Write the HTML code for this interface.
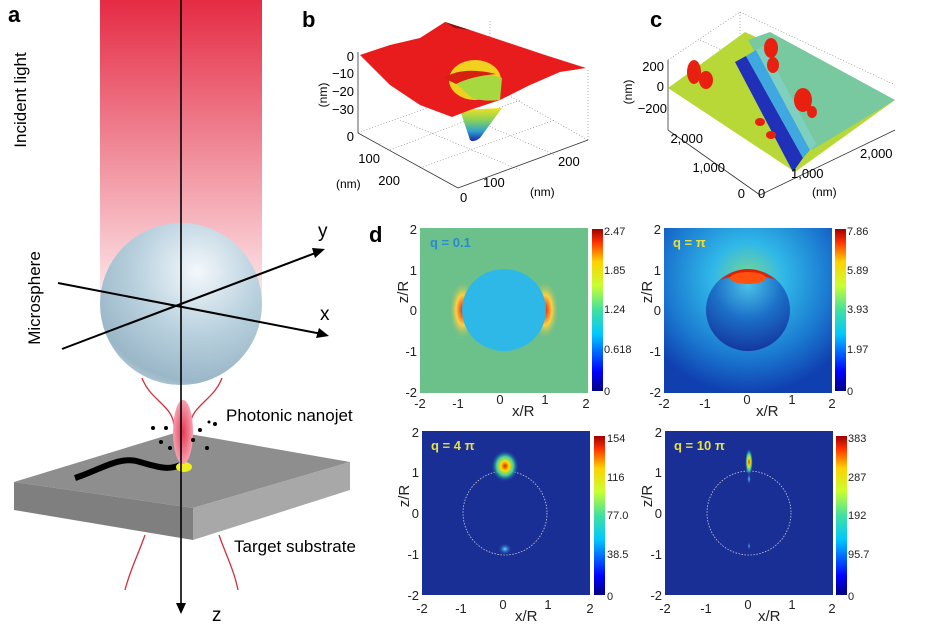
<!DOCTYPE html>
<html><head><meta charset="utf-8"><style>
html,body{margin:0;padding:0;background:#fff}
svg{display:block;font-family:"Liberation Sans",Arial,sans-serif}
</style></head><body>
<svg width="925" height="637" viewBox="0 0 925 637" xmlns="http://www.w3.org/2000/svg">
<defs>
<linearGradient id="beam" x1="0" y1="0" x2="0" y2="1">
<stop offset="0" stop-color="#e52b44"/><stop offset="0.5" stop-color="#f08a98"/><stop offset="1" stop-color="#fde9ec"/></linearGradient>
<radialGradient id="sph" cx="0.6" cy="0.3" r="0.8">
<stop offset="0" stop-color="#f4f8fb"/><stop offset="0.45" stop-color="#bcd3e0"/><stop offset="0.85" stop-color="#9ab7c8"/><stop offset="1" stop-color="#c8d8e2"/></radialGradient>
<radialGradient id="jet" cx="0.5" cy="0.5" r="0.5">
<stop offset="0" stop-color="#e83a55"/><stop offset="1" stop-color="#f7a0b0"/></radialGradient>
<linearGradient id="cbar" x1="0" y1="1" x2="0" y2="0">
<stop offset="0" stop-color="#00007f"/><stop offset="0.12" stop-color="#0000ff"/><stop offset="0.35" stop-color="#00c8ff"/><stop offset="0.5" stop-color="#40e0a0"/><stop offset="0.65" stop-color="#c8ff30"/><stop offset="0.8" stop-color="#ffd000"/><stop offset="0.92" stop-color="#ff3000"/><stop offset="1" stop-color="#9f0000"/></linearGradient>
<radialGradient id="side" cx="0.5" cy="0.5" r="0.5">
<stop offset="0" stop-color="#e02010"/><stop offset="0.5" stop-color="#ffd040"/><stop offset="1" stop-color="#6cc08a" stop-opacity="0"/></radialGradient>
<radialGradient id="p2bg" cx="0.5" cy="0.3" r="0.7">
<stop offset="0" stop-color="#7ad890"/><stop offset="0.3" stop-color="#30b8e8"/><stop offset="0.7" stop-color="#1a78d0"/><stop offset="1" stop-color="#1040b0"/></radialGradient>
<radialGradient id="p2in" cx="0.5" cy="0.2" r="0.8">
<stop offset="0" stop-color="#4ac0e8"/><stop offset="0.5" stop-color="#1c70c8"/><stop offset="1" stop-color="#1438a0"/></radialGradient>
<radialGradient id="hot" cx="0.5" cy="0.5" r="0.5">
<stop offset="0" stop-color="#e02000"/><stop offset="0.3" stop-color="#ffe000"/><stop offset="0.6" stop-color="#40d0a0"/><stop offset="1" stop-color="#1030a0" stop-opacity="0"/></radialGradient>
<radialGradient id="warm" cx="0.5" cy="0.5" r="0.5">
<stop offset="0" stop-color="#60e0ff"/><stop offset="1" stop-color="#1030a0" stop-opacity="0"/></radialGradient>
<linearGradient id="bdip" x1="0" y1="0" x2="0" y2="1">
<stop offset="0" stop-color="#f0e020"/><stop offset="0.4" stop-color="#80d060"/><stop offset="0.7" stop-color="#30a0d0"/><stop offset="1" stop-color="#1a2aa0"/></linearGradient>
</defs>

<!-- Panel a -->
<rect x="100" y="0" width="162" height="300" fill="url(#beam)"/>
<text x="8" y="22" font-size="22" font-weight="bold">a</text>
<text transform="translate(26,100) rotate(-90)" font-size="17" text-anchor="middle">Incident light</text>
<text transform="translate(40,298) rotate(-90)" font-size="17" text-anchor="middle">Microsphere</text>
<circle cx="181" cy="304" r="81" fill="url(#sph)"/>
<path d="M142,378 C150,400 172,405 174,425" stroke="#d0303a" stroke-width="1.3" fill="none"/>
<path d="M222,378 C214,400 192,405 190,425" stroke="#d0303a" stroke-width="1.3" fill="none"/>
<line x1="58" y1="283" x2="322" y2="334" stroke="#000" stroke-width="2"/>
<polygon points="329,336 316,338 319,328" fill="#000"/>
<line x1="62" y1="349" x2="318" y2="252" stroke="#000" stroke-width="2"/>
<polygon points="325,249 315,258 312,248" fill="#000"/>
<text x="318" y="237" font-size="19">y</text>
<text x="320" y="320" font-size="19">x</text>
<polygon points="14,482 178,432 350,462 193,508" fill="#8e8e8e"/>
<polygon points="14,482 193,508 193,540 14,510" fill="#7f7f7f"/>
<polygon points="193,508 350,462 350,490 193,540" fill="#a8a8a8"/>
<path d="M75,478 C100,470 120,455 140,462 C160,468 170,470 180,465" stroke="#000" stroke-width="6" fill="none"/>
<ellipse cx="184" cy="467" rx="8" ry="5" fill="#f0f020"/>
<ellipse cx="183" cy="432" rx="10" ry="32" fill="url(#jet)"/>
<g fill="#000"><circle cx="153" cy="428" r="2"/><circle cx="166" cy="428" r="2"/><circle cx="200" cy="430" r="2"/><circle cx="215" cy="424" r="2"/><circle cx="207" cy="448" r="2"/><circle cx="161" cy="442" r="2"/><circle cx="170" cy="448" r="2"/><circle cx="193" cy="440" r="2"/><circle cx="209" cy="422" r="1.5"/></g>
<line x1="181" y1="0" x2="181" y2="605" stroke="#000" stroke-width="1.6"/>
<polygon points="181,614 176,603 186,603" fill="#000"/>
<path d="M145,535 C138,555 130,570 125,590" stroke="#d0303a" stroke-width="1.3" fill="none"/>
<path d="M219,535 C226,555 234,570 238,590" stroke="#d0303a" stroke-width="1.3" fill="none"/>
<text x="226" y="421" font-size="17">Photonic nanojet</text>
<text x="234" y="552" font-size="17">Target substrate</text>
<text x="212" y="621" font-size="19">z</text>

<!-- Panel b -->
<text x="302" y="27" font-size="22" font-weight="bold">b</text>
<g stroke="#777" stroke-width="0.6" stroke-dasharray="1,2" fill="none">
<line x1="358" y1="133" x2="490" y2="85"/><line x1="490" y1="85" x2="588" y2="140"/>
<line x1="490" y1="85" x2="490" y2="20"/><line x1="588" y1="140" x2="588" y2="68"/>
<line x1="390" y1="150" x2="520" y2="100"/><line x1="420" y1="168" x2="555" y2="120"/>
<line x1="400" y1="120" x2="520" y2="170"/><line x1="440" y1="105" x2="555" y2="155"/>
</g>
<line x1="358" y1="52" x2="358" y2="133" stroke="#333" stroke-width="0.8"/>
<line x1="358" y1="133" x2="458" y2="188" stroke="#333" stroke-width="0.8"/>
<line x1="458" y1="188" x2="588" y2="140" stroke="#333" stroke-width="0.8"/>
<path d="M460,110 L470,140 Q473,143 480,138 L502,108 Z" fill="url(#bdip)"/>
<path d="M360,55 L390,45 L420,38 L445,22 L470,30 L500,40 L545,55 L586,68 L560,72 L530,85 L500,100 L470,110 L452,117 L420,105 L390,85 Z" fill="#e81c1c"/>
<path d="M445,22 L470,30 L455,28 Z" fill="#8a1010"/>
<ellipse cx="475" cy="80" rx="26" ry="20" fill="#f2d020"/>
<path d="M452,80 Q475,68 502,78 L500,100 Q485,102 472,98 Z" fill="#a8d840"/>
<path d="M444,78 Q462,66 496,74 Q472,76 456,84 Z" fill="#d82010"/>
<g font-size="13" text-anchor="end"><text x="354" y="61">0</text><text x="354" y="78">−10</text><text x="354" y="96">−20</text><text x="354" y="114">−30</text><text x="354" y="141">0</text><text x="380" y="163">100</text><text x="400" y="185">200</text></g>
<text transform="translate(327,95) rotate(-90)" font-size="12" text-anchor="middle">(nm)</text>
<text x="336" y="188" font-size="12">(nm)</text>
<g font-size="13"><text x="460" y="202">0</text><text x="483" y="187">100</text><text x="558" y="166">200</text><text x="530" y="196" font-size="12">(nm)</text></g>

<!-- Panel c -->
<text x="650" y="27" font-size="22" font-weight="bold">c</text>
<g stroke="#777" stroke-width="0.6" stroke-dasharray="1,2" fill="none">
<line x1="668" y1="60" x2="740" y2="12"/><line x1="740" y1="12" x2="895" y2="85"/><line x1="740" y1="12" x2="740" y2="90"/>
<line x1="700" y1="40" x2="850" y2="110"/><line x1="760" y1="40" x2="870" y2="100"/>
</g>
<line x1="668" y1="60" x2="668" y2="130" stroke="#333" stroke-width="0.8"/>
<line x1="668" y1="130" x2="760" y2="195" stroke="#333" stroke-width="0.8"/>
<line x1="760" y1="195" x2="895" y2="130" stroke="#333" stroke-width="0.8"/>
<polygon points="668,88 745,32 895,100 795,172" fill="#b8d838"/>
<polygon points="748,40 770,32 895,100 812,150" fill="#78c8a0"/>
<polygon points="735,62 746,56 803,158 793,172" fill="#2030b8"/>
<polygon points="746,56 756,50 810,150 803,158" fill="#40a8e0"/>
<polygon points="756,50 764,46 816,144 810,150" fill="#80d0c0"/>
<g fill="#e82010">
<ellipse cx="694" cy="72" rx="7" ry="12"/><ellipse cx="706" cy="80" rx="7" ry="9"/>
<ellipse cx="771" cy="48" rx="7" ry="10"/><ellipse cx="773" cy="65" rx="6" ry="8"/>
<ellipse cx="803" cy="100" rx="9" ry="12"/><ellipse cx="812" cy="112" rx="5" ry="6"/>
<ellipse cx="760" cy="122" rx="5" ry="4"/><ellipse cx="771" cy="135" rx="5" ry="4"/>
</g>
<g font-size="13" text-anchor="end"><text x="664" y="71">200</text><text x="664" y="91">0</text><text x="667" y="113">−200</text>
<text x="703" y="143">2,000</text><text x="725" y="172">1,000</text><text x="745" y="198">0</text></g>
<text transform="translate(632,92) rotate(-90)" font-size="12" text-anchor="middle">(nm)</text>
<g font-size="13"><text x="758" y="198">0</text><text x="791" y="178">1,000</text><text x="860" y="158">2,000</text><text x="812" y="196" font-size="12">(nm)</text></g>

<!-- Panel d -->
<text x="369" y="242" font-size="22" font-weight="bold">d</text>

<rect x="420" y="228" width="168" height="165" fill="#6cc08a"/>
<ellipse cx="463" cy="310" rx="14" ry="30" fill="url(#side)"/>
<ellipse cx="545" cy="310" rx="14" ry="30" fill="url(#side)"/>
<ellipse cx="504" cy="310" rx="42" ry="41" fill="#2eb8e8"/>
<text x="430" y="247" font-size="13" font-weight="bold" fill="#2a8ad0">q = 0.1</text>
<rect x="592" y="229" width="11" height="162" fill="url(#cbar)"/>
<g font-size="11" fill="#222"><text x="604" y="235">2.47</text><text x="604" y="274">1.85</text><text x="604" y="313">1.24</text><text x="604" y="353">0.618</text><text x="604" y="395">0</text></g>

<rect x="664" y="228" width="168" height="165" fill="url(#p2bg)"/>
<ellipse cx="748" cy="310" rx="42" ry="41" fill="url(#p2in)"/>
<path d="M720,280 Q748,258 776,280 Q748,270 720,280 Z" fill="#e02000"/>
<ellipse cx="748" cy="278" rx="18" ry="6" fill="#ff5010"/>
<text x="673" y="247" font-size="13" font-weight="bold" fill="#e8e040">q = π</text>
<rect x="835" y="229" width="11" height="162" fill="url(#cbar)"/>
<g font-size="11" fill="#222"><text x="847" y="235">7.86</text><text x="847" y="274">5.89</text><text x="847" y="313">3.93</text><text x="847" y="353">1.97</text><text x="847" y="395">0</text></g>

<rect x="422" y="431" width="168" height="164" fill="#1a2f95"/>
<circle cx="505" cy="513" r="42" fill="none" stroke="#ccc" stroke-width="0.8" stroke-dasharray="1.5,1.5"/>
<ellipse cx="505" cy="466" rx="14" ry="16" fill="url(#hot)"/>
<ellipse cx="505" cy="549" rx="7" ry="6" fill="url(#warm)"/>
<text x="431" y="450" font-size="13" font-weight="bold" fill="#e8e040">q = 4 π</text>
<rect x="594" y="436" width="11" height="159" fill="url(#cbar)"/>
<g font-size="11" fill="#222"><text x="607" y="442">154</text><text x="607" y="481">116</text><text x="607" y="519">77.0</text><text x="607" y="558">38.5</text><text x="607" y="600">0</text></g>

<rect x="665" y="431" width="168" height="164" fill="#1a2f95"/>
<circle cx="749" cy="513" r="42" fill="none" stroke="#ccc" stroke-width="0.8" stroke-dasharray="1.5,1.5"/>
<ellipse cx="749" cy="462" rx="4" ry="14" fill="url(#hot)"/>
<ellipse cx="749" cy="479" rx="2" ry="6" fill="url(#warm)"/>
<ellipse cx="749" cy="546" rx="1.5" ry="4" fill="url(#warm)"/>
<text x="674" y="450" font-size="13" font-weight="bold" fill="#e8e040">q = 10 π</text>
<rect x="836" y="436" width="11" height="159" fill="url(#cbar)"/>
<g font-size="11" fill="#222"><text x="848" y="442">383</text><text x="848" y="481">287</text><text x="848" y="519">192</text><text x="848" y="558">95.7</text><text x="848" y="600">0</text></g>

<g font-size="13" fill="#222" text-anchor="end">
<text x="417" y="234">2</text><text x="417" y="275">1</text><text x="417" y="315">0</text><text x="417" y="356">-1</text><text x="417" y="397">-2</text>
<text x="661" y="234">2</text><text x="661" y="275">1</text><text x="661" y="315">0</text><text x="661" y="356">-1</text><text x="661" y="397">-2</text>
<text x="419" y="437">2</text><text x="419" y="477">1</text><text x="419" y="518">0</text><text x="419" y="559">-1</text><text x="419" y="600">-2</text>
<text x="662" y="437">2</text><text x="662" y="477">1</text><text x="662" y="518">0</text><text x="662" y="559">-1</text><text x="662" y="600">-2</text>
</g>
<g font-size="13" fill="#222" text-anchor="middle">
<text x="420" y="408">-2</text><text x="458" y="408">-1</text><text x="500" y="404">0</text><text x="545" y="404">1</text><text x="586" y="408">2</text>
<text x="664" y="408">-2</text><text x="705" y="408">-1</text><text x="747" y="404">0</text><text x="792" y="404">1</text><text x="832" y="408">2</text>
<text x="422" y="613">-2</text><text x="461" y="613">-1</text><text x="503" y="609">0</text><text x="548" y="609">1</text><text x="590" y="613">2</text>
<text x="665" y="613">-2</text><text x="706" y="613">-1</text><text x="748" y="609">0</text><text x="792" y="609">1</text><text x="832" y="613">2</text>
</g>
<g font-size="15" fill="#222">
<text x="512" y="416">x/R</text><text x="756" y="416">x/R</text><text x="515" y="621">x/R</text><text x="758" y="621">x/R</text>
<text transform="translate(408,292) rotate(-90)" text-anchor="middle">z/R</text>
<text transform="translate(652,292) rotate(-90)" text-anchor="middle">z/R</text>
<text transform="translate(409,496) rotate(-90)" text-anchor="middle">z/R</text>
<text transform="translate(652,496) rotate(-90)" text-anchor="middle">z/R</text>
</g>
</svg>
</body></html>
